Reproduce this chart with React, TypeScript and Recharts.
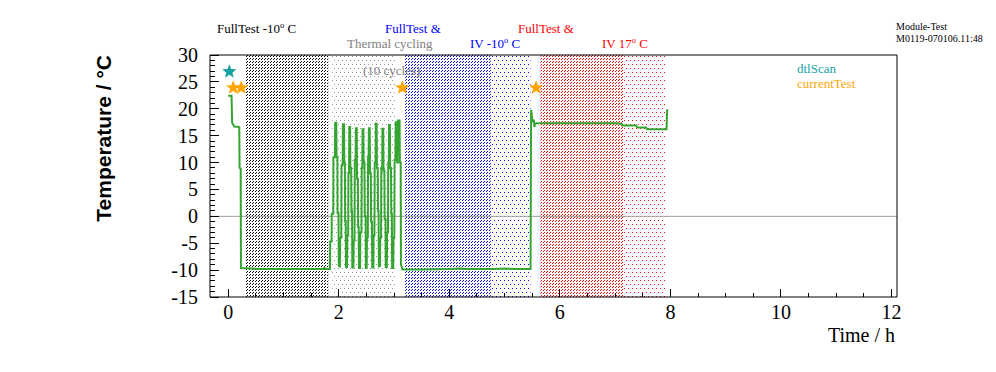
import React from 'react';
import {
  ComposedChart,
  Line,
  Scatter,
  XAxis,
  YAxis,
  ReferenceArea,
  ReferenceLine,
} from 'recharts';

// temperature log: [time / h, temperature / °C]
const tempLog: [number, number][] = [
  [0.0, 22.4], [0.06, 22.4], [0.07, 17.4], [0.11, 16.7], [0.2, 16.6],
  [0.205, 9.0], [0.225, 8.9], [0.23, -9.6], [0.6, -9.8], [1.0, -9.8],
  [1.4, -9.8], [1.72, -9.8], [1.74, -9.6], [1.76, -9.8], [1.84, -9.8],
  // thermal cycling, 10 cycles
  [1.845, -4.7], [1.87, -4.7], [1.873, 0.5], [1.9, 0.5], [1.903, 11], [1.93, 11],
  [1.935, 17.4], [1.955, 17.4], [1.96, 11], [1.975, 11], [1.978, 0.6], [1.995, 0.6],
  [2.0, -9.2], [2.02, -9.3],
  [2.025, -4], [2.045, -4], [2.05, 9.5], [2.07, 9.5], [2.075, 17.1], [2.095, 17.1],
  [2.1, 10], [2.11, 10], [2.115, -1], [2.125, -1], [2.13, -9.4], [2.15, -9.4],
  [2.155, -3.5], [2.17, -3.5], [2.175, 8], [2.185, 8], [2.19, 16.6], [2.205, 16.6],
  [2.21, 9], [2.225, 9], [2.23, 1], [2.24, 1], [2.245, -9.5], [2.265, -9.5],
  [2.27, -4.5], [2.285, -4.5], [2.29, 10.5], [2.305, 10.5], [2.31, 16.4], [2.325, 16.4],
  [2.33, 7], [2.345, 7], [2.35, -2], [2.36, -2], [2.365, -9.6], [2.385, -9.6],
  [2.39, -3], [2.41, -3], [2.415, 9], [2.425, 9], [2.43, 16.2], [2.445, 16.2],
  [2.45, 10], [2.465, 10], [2.47, 0], [2.485, 0], [2.49, -9.6], [2.505, -9.6],
  [2.51, -4], [2.525, -4], [2.53, 11], [2.54, 11], [2.545, 16.4], [2.56, 16.4],
  [2.565, 8], [2.58, 8], [2.585, -1], [2.6, -1], [2.605, -9.5], [2.625, -9.5],
  [2.63, -3.5], [2.645, -3.5], [2.65, 10], [2.665, 10], [2.67, 17.2], [2.685, 17.2],
  [2.69, 9], [2.705, 9], [2.71, 1], [2.72, 1], [2.725, -9.3], [2.745, -9.3],
  [2.75, -4], [2.765, -4], [2.77, 9], [2.785, 9], [2.79, 16.3], [2.805, 16.3],
  [2.81, 8.5], [2.825, 8.5], [2.83, -0.5], [2.845, -0.5], [2.85, -9.4], [2.87, -9.4],
  [2.875, -3], [2.89, -3], [2.895, 10], [2.905, 10], [2.91, 17.0], [2.925, 17.0],
  [2.93, 9], [2.945, 9], [2.95, 0.5], [2.96, 0.5], [2.965, -9.6], [2.985, -9.6],
  [2.99, -4], [3.005, -4], [3.01, 10.5], [3.025, 10.5], [3.03, 17.5], [3.05, 17.5],
  [3.055, 10], [3.065, 10], [3.07, 17.8], [3.1, 17.8], [3.105, 10], [3.12, 10],
  [3.125, -9.0], [3.145, -9.5], [3.15, -9.9],
  // cold plateau
  [3.5, -9.9], [4.0, -9.8], [4.2, -9.7], [4.3, -9.8], [4.8, -9.8], [5.0, -9.7],
  [5.2, -9.8], [5.47, -9.8],
  // warm-up to 17 °C
  [5.48, 19.8], [5.49, 19.0], [5.5, 18.0], [5.52, 17.6], [5.53, 18.0], [5.54, 16.6],
  [5.55, 17.2], [5.58, 17.3], [6.0, 17.3], [6.5, 17.3], [7.0, 17.3], [7.12, 17.2],
  [7.13, 16.9], [7.38, 16.9], [7.4, 16.5], [7.56, 16.5], [7.58, 16.2], [7.93, 16.2],
  [7.94, 19.6], [7.95, 19.9],
];

const dtlScan = [{ t: 0.02, temp: 26.9 }];
const currentTest = [
  { t: 0.09, temp: 23.9 },
  { t: 0.235, temp: 23.9 },
  { t: 3.15, temp: 23.9 },
  { t: 5.57, temp: 23.9 },
];

// test phases (hours)
const phaseStart = [0.31, 1.88, 3.2, 4.75, 5.65, 7.16];
const phaseEnd = [1.81, 3.02, 4.75, 5.47, 7.16, 7.91];
const phasePattern = ['hatchBlack', 'dotsGrey', 'hatchBlue', 'dotsBlue', 'hatchRed', 'dotsRed'];

const xTicks = Array.from({ length: 25 }, (_, i) => i * 0.5);
const yTicks = Array.from({ length: 46 }, (_, i) => i - 15);

const tempData = tempLog.map(([t, temp]) => ({ t, temp }));

const serif = '"Liberation Serif", "Times New Roman", serif';

const XTick = (props: any) => {
  const { x, y, payload } = props;
  const v = payload.value;
  const major = v % 2 === 0;
  return (
    <g>
      <line x1={x} x2={x} y1={y} y2={y - (major ? 8 : 4)} stroke="#000" shapeRendering="crispEdges" />
      {major && (
        <text x={x} y={y + 22} textAnchor="middle" fontFamily={serif} fontSize={20} fill="#000">
          {v}
        </text>
      )}
    </g>
  );
};

const YTick = (props: any) => {
  const { x, y, payload } = props;
  const v = payload.value;
  const major = v % 5 === 0;
  return (
    <g>
      <line x1={x} x2={x + (major ? 9 : 5)} y1={y} y2={y} stroke="#000" shapeRendering="crispEdges" />
      {major && (
        <text x={x - 12} y={y + 7} textAnchor="end" fontFamily={serif} fontSize={20} fill="#000">
          {v}
        </text>
      )}
    </g>
  );
};

const starShape = (color: string) => (props: any) => {
  const { cx, cy } = props;
  const pts: string[] = [];
  for (let i = 0; i < 10; i++) {
    const a = (-90 + i * 36) * (Math.PI / 180);
    const r = i % 2 === 0 ? 7.5 : 3.2;
    pts.push(`${cx + r * Math.cos(a)},${cy + r * Math.sin(a)}`);
  }
  return <polygon points={pts.join(' ')} fill={color} />;
};

const Deg = ({ size }: { size: number }) => (
  <>
    <tspan dy={-5} fontSize={size * 0.65}>o</tspan>
    <tspan dy={5} fontSize={size}> C</tspan>
  </>
);

export default function App() {
  return (
    <div style={{ position: 'absolute', left: 0, top: 0, width: 996, height: 372, background: '#fff' }}>
      <ComposedChart
        width={996}
        height={372}
        margin={{ top: 55, right: 99, bottom: 45, left: 150 }}
      >
        {phaseStart.map((s, i) => (
          <ReferenceArea
            key={i}
            x1={s}
            x2={phaseEnd[i]}
            y1={-15}
            y2={30}
            fill={`url(#${phasePattern[i]})`}
            fillOpacity={1}
            stroke="none"
          />
        ))}
        <XAxis
          type="number"
          dataKey="t"
          domain={[-0.33, 12.1]}
          allowDataOverflow
          ticks={xTicks}
          interval={0}
          tick={XTick}
          tickLine={false}
          tickSize={0}
          tickMargin={0}
          height={30}
          axisLine={{ stroke: '#000' }}
        />
        <YAxis
          type="number"
          domain={[-15, 30]}
          allowDataOverflow
          ticks={yTicks}
          interval={0}
          tick={YTick}
          tickLine={false}
          tickSize={0}
          tickMargin={0}
          width={60}
          axisLine={{ stroke: '#000' }}
        />
        <ReferenceLine y={0} stroke="#a39e94" />
        <ReferenceLine y={30} stroke="#000" />
        <ReferenceLine x={12.1} stroke="#000" />
        <Line
          data={tempData}
          dataKey="temp"
          type="linear"
          stroke="#35a531"
          strokeWidth={2}
          dot={false}
          isAnimationActive={false}
        />
        <Scatter data={dtlScan} dataKey="temp" shape={starShape('#17a3a3')} isAnimationActive={false} />
        <Scatter data={currentTest} dataKey="temp" shape={starShape('#ffa500')} isAnimationActive={false} />
      </ComposedChart>
      <svg
        width={996}
        height={372}
        style={{ position: 'absolute', left: 0, top: 0, pointerEvents: 'none' }}
      >
        <defs>
          <pattern id="hatchBlack" width="3" height="3" patternUnits="userSpaceOnUse">
            <rect x="0" y="2" width="1" height="1" fill="#000" />
            <rect x="1" y="1" width="1" height="1" fill="#000" />
          </pattern>
          <pattern id="hatchBlue" width="3" height="3" patternUnits="userSpaceOnUse">
            <rect x="0" y="2" width="1" height="1" fill="#0000ff" />
            <rect x="1" y="1" width="1" height="1" fill="#0000ff" />
          </pattern>
          <pattern id="hatchRed" width="3" height="3" patternUnits="userSpaceOnUse">
            <rect x="0" y="2" width="1" height="1" fill="#ff0000" />
            <rect x="1" y="1" width="1" height="1" fill="#ff0000" />
          </pattern>
          <pattern id="dotsGrey" width="4" height="8" patternUnits="userSpaceOnUse">
            <rect x="0" y="0" width="1" height="1" fill="#8c9a98" />
            <rect x="2" y="4" width="1" height="1" fill="#8c9a98" />
          </pattern>
          <pattern id="dotsBlue" width="4" height="8" patternUnits="userSpaceOnUse">
            <rect x="0" y="0" width="1" height="1" fill="#0000ff" />
            <rect x="2" y="4" width="1" height="1" fill="#0000ff" />
          </pattern>
          <pattern id="dotsRed" width="4" height="8" patternUnits="userSpaceOnUse">
            <rect x="0" y="0" width="1" height="1" fill="#ff0000" />
            <rect x="2" y="4" width="1" height="1" fill="#ff0000" />
          </pattern>
        </defs>
        <g fontFamily={serif} fontSize={13}>
          <text x={217} y={33} fill="#000">FullTest -10<Deg size={13} /></text>
          <text x={347} y={48} fill="#808080">Thermal cycling</text>
          <text x={363} y={75} fill="#808080">(10 cycles)</text>
          <text x={385} y={33} fill="#0000ff">FullTest &amp;</text>
          <text x={470} y={48} fill="#0000ff">IV -10<Deg size={13} /></text>
          <text x={518} y={33} fill="#ff0000">FullTest &amp;</text>
          <text x={602} y={48} fill="#ff0000">IV 17<Deg size={13} /></text>
          <text x={797} y={73} fill="#17a3a3">dtlScan</text>
          <text x={797} y={88} fill="#ffa500">currentTest</text>
          <text x={896} y={30} fontSize={10} fill="#000">Module-Test</text>
          <text x={896} y={42} fontSize={10} fill="#000">M0119-070106.11:48</text>
        </g>
        <text x={895} y={342} textAnchor="end" fontFamily={serif} fontSize={20} fill="#000">
          Time / h
        </text>
        <text
          transform="translate(111,55) rotate(-90)"
          textAnchor="end"
          fontFamily='"Liberation Sans", Arial, sans-serif'
          fontWeight="bold"
          fontSize={21}
          fill="#000"
        >
          Temperature / °C
        </text>
      </svg>
    </div>
  );
}
